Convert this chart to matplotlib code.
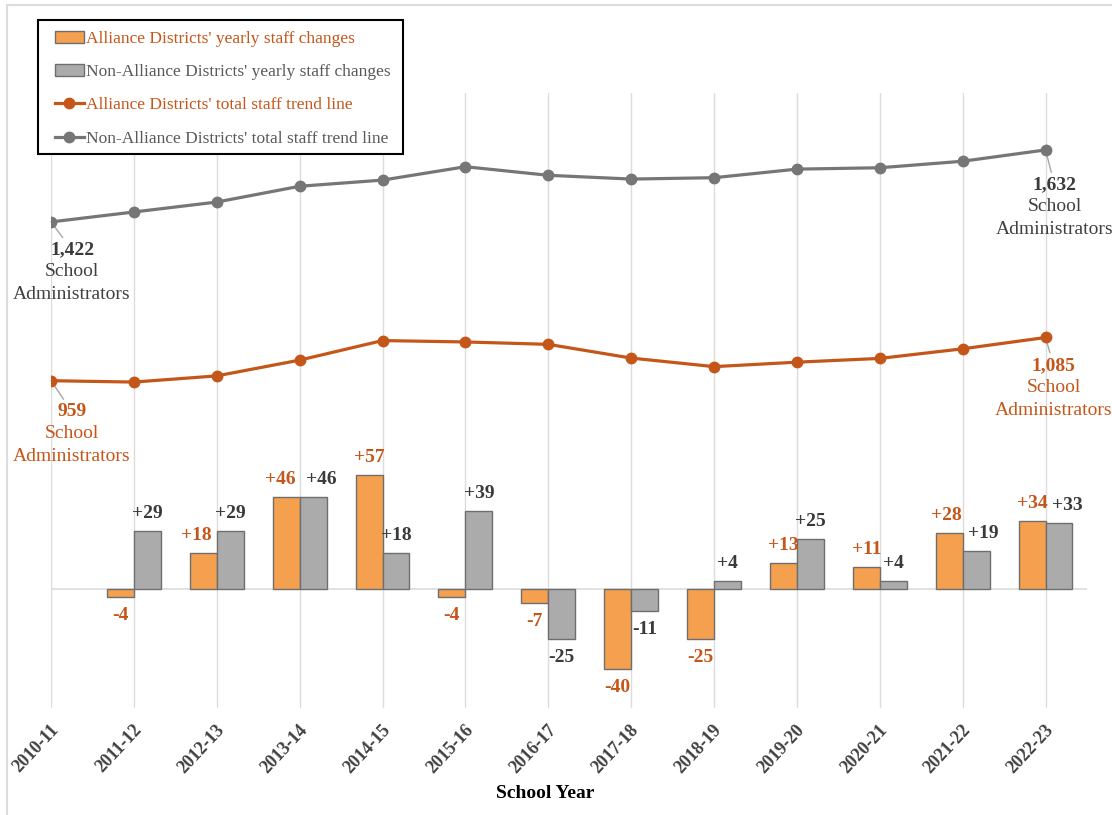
import matplotlib
matplotlib.use("Agg")
import matplotlib.pyplot as plt
import matplotlib.transforms as mtransforms
import numpy as np
from matplotlib.patches import Patch, Rectangle
from matplotlib.lines import Line2D

plt.rcParams['font.family'] = ['Liberation Serif', 'DejaVu Serif']

# school years on the x axis
years = ['2010-11', '2011-12', '2012-13', '2013-14', '2014-15', '2015-16', '2016-17',
         '2017-18', '2018-19', '2019-20', '2020-21', '2021-22', '2022-23']

# yearly staff changes (from 2011-12 on)
alliance_change = [-4, 18, 46, 57, -4, -7, -40, -25, 13, 11, 28, 34]
non_alliance_change = [29, 29, 46, 18, 39, -25, -11, 4, 25, 4, 19, 33]

# total school administrators per year
alliance_total = [959, 955, 973, 1019, 1076, 1072, 1065, 1025, 1000, 1013, 1024, 1052, 1085]
non_alliance_total = [1422, 1451, 1480, 1526, 1544, 1583, 1558, 1547, 1551, 1576, 1580, 1599, 1632]

ORANGE_BAR = '#F5A04E'
GRAY_BAR = '#ABABAB'
ORANGE = '#C5561A'
GRAY_LINE = '#767676'
DARK = '#3A3A3A'
GRID = '#DCDCDC'

fig = plt.figure(figsize=(11.12, 8.15), dpi=100)
# light frame around the chart
fig.patches.append(Rectangle((7/1112, -0.1), 1.5, 1 - 5/815 + 0.1, transform=fig.transFigure,
                             fill=False, edgecolor=GRID, lw=1.5))

ax = fig.add_axes([51/1112, 1 - 708/815, 1036/1112, 615/815])
x = np.arange(len(years))
w = 0.325

ax.bar(x[1:] - w/2, alliance_change, w, color=ORANGE_BAR, edgecolor='#6E6E6E', lw=1, zorder=3)
ax.bar(x[1:] + w/2, non_alliance_change, w, color=GRAY_BAR, edgecolor='#6E6E6E', lw=1, zorder=3)
ax.axhline(0, color=GRID, lw=1.2, zorder=2)

ax.set_xlim(0, 12.5)
ax.set_ylim(-59.5, 248)
ax.set_xticks(x)
ax.set_xticklabels(years, rotation=47, ha='right', va='center', rotation_mode='anchor',
                   fontweight='bold', fontsize=13, color='#404040')
ax.tick_params(axis='x', length=0, pad=14)
shift = mtransforms.ScaledTranslation(5/100, 0, fig.dpi_scale_trans)
for lab in ax.get_xticklabels():
    lab.set_transform(lab.get_transform() + shift)
ax.set_yticks([])
ax.grid(axis='x', color=GRID, lw=1.0)
ax.set_axisbelow(True)
for s in ax.spines.values():
    s.set_visible(False)

# bar value labels, a few nudged sideways so they do not collide
nudge_a = {2: -7, 3: -6, 11: -3}
nudge_n = {3: 8, 11: 7, 12: 8}
for i, v in enumerate(alliance_change):
    off = 17 if v > 0 else -19
    ax.annotate(f'{v:+d}', xy=(x[i+1] - w/2, v), xytext=(nudge_a.get(i+1, 0), off),
                textcoords='offset pixels', ha='center', va='center',
                fontweight='bold', fontsize=14, color=ORANGE)
for i, v in enumerate(non_alliance_change):
    off = 17 if v > 0 else -19
    ax.annotate(f'{v:+d}', xy=(x[i+1] + w/2, v), xytext=(nudge_n.get(i+1, 0), off),
                textcoords='offset pixels', ha='center', va='center',
                fontweight='bold', fontsize=14, color=DARK)

# trend lines on their own scale
ax2 = ax.twinx()
ax2.set_ylim(4.5, 1798)
ax2.plot(x, non_alliance_total, color=GRAY_LINE, lw=2.3, marker='o', ms=7.5, zorder=4)
ax2.plot(x, alliance_total, color=ORANGE, lw=2.3, marker='o', ms=7.5, zorder=4)
ax2.set_yticks([])
for s in ax2.spines.values():
    s.set_visible(False)

# endpoint callouts
callouts = [
    (0, non_alliance_total[0], 21, 28, DARK, '#404040'),
    (0, alliance_total[0], 21, 31, ORANGE, ORANGE),
    (12, non_alliance_total[-1], 9, 35, DARK, '#404040'),
    (12, alliance_total[-1], 8, 28, ORANGE, ORANGE),
]
for xi, val, dx, dy, c_num, c_txt in callouts:
    ax2.annotate(f'{val:,}', xy=(xi, val), xytext=(dx, -dy), textcoords='offset pixels',
                 ha='center', va='center', fontweight='bold', fontsize=14, color=c_num,
                 arrowprops=dict(arrowstyle='-', color='#A6A6A6', lw=1, shrinkA=1, shrinkB=0),
                 annotation_clip=False)
    ax2.annotate('School', xy=(xi, val), xytext=(dx, -dy - 22), textcoords='offset pixels',
                 ha='center', va='center', fontsize=14, color=c_txt, annotation_clip=False)
    ax2.annotate('Administrators', xy=(xi, val), xytext=(dx, -dy - 45), textcoords='offset pixels',
                 ha='center', va='center', fontsize=14, color=c_txt, annotation_clip=False)

handles = [
    Patch(facecolor=ORANGE_BAR, edgecolor='#6E6E6E'),
    Patch(facecolor=GRAY_BAR, edgecolor='#6E6E6E'),
    Line2D([], [], color=ORANGE, lw=2.3, marker='o', ms=7.5),
    Line2D([], [], color=GRAY_LINE, lw=2.3, marker='o', ms=7.5),
]
labels = ["Alliance Districts' yearly staff changes",
          "Non-Alliance Districts' yearly staff changes",
          "Alliance Districts' total staff trend line",
          "Non-Alliance Districts' total staff trend line"]
leg = fig.legend(handles, labels, loc='upper left', bbox_to_anchor=(55/1112, 1 - 31/815),
                 frameon=False, fontsize=12.5, handlelength=1.65, handletextpad=0.15,
                 labelspacing=0.98, borderpad=0, borderaxespad=0)
for t, c in zip(leg.get_texts(), [ORANGE, '#595959', ORANGE, '#595959']):
    t.set_color(c)
# legend frame drawn separately
fig.patches.append(Rectangle((38/1112, 1 - 154/815), 365/1112, 134/815, transform=fig.transFigure,
                             fill=True, facecolor='white', edgecolor='black', lw=1.5, zorder=5))
leg.set_zorder(6)

fig.text(545/1112, 1 - 794/815, 'School Year', ha='center', va='center',
         fontweight='bold', fontsize=14)

fig.savefig('out.png', dpi=100)
